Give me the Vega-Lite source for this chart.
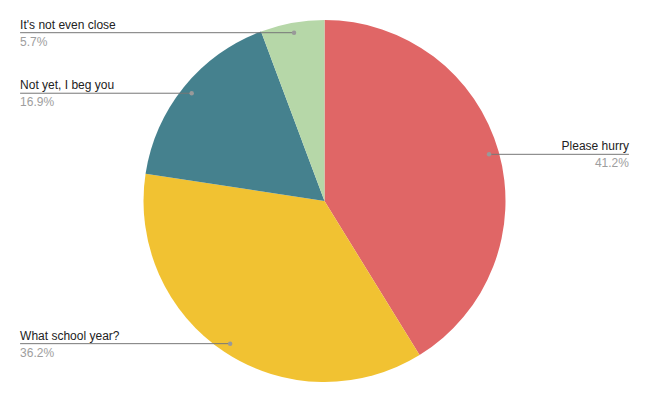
{
  "$schema": "https://vega.github.io/schema/vega-lite/v6.json",
  "width": 649,
  "height": 402,
  "padding": 0,
  "autosize": {"type": "fit", "contains": "padding"},
  "background": "white",
  "config": {"view": {"stroke": null}, "font": "Liberation Sans"},
  "data": {
    "values": [
      {"category": "Please hurry", "value": 41.2, "order": 1},
      {"category": "What school year?", "value": 36.2, "order": 2},
      {"category": "Not yet, I beg you", "value": 16.9, "order": 3},
      {"category": "It's not even close", "value": 5.7, "order": 4}
    ]
  },
  "transform": [
    {"window": [{"op": "sum", "field": "value", "as": "cum"}], "sort": [{"field": "order"}], "frame": [null, 0]},
    {"joinaggregate": [{"op": "sum", "field": "value", "as": "total"}]},
    {"calculate": "(datum.cum - datum.value / 2) / datum.total * 2 * PI", "as": "mid"},
    {"calculate": "0.945 * sin(datum.mid)", "as": "dotx"},
    {"calculate": "0.945 * cos(datum.mid)", "as": "doty"},
    {"calculate": "datum.mid > PI ? -1 : 1", "as": "side"},
    {"calculate": "datum.side * 1.682", "as": "labx"},
    {"calculate": "format(datum.value, '.1f') + '%'", "as": "pct"}
  ],
  "layer": [
    {
      "mark": {"type": "arc", "outerRadius": 181},
      "encoding": {
        "theta": {"field": "value", "type": "quantitative", "stack": true},
        "order": {"field": "order", "type": "quantitative"},
        "color": {
          "field": "category",
          "type": "nominal",
          "scale": {
            "domain": ["Please hurry", "What school year?", "Not yet, I beg you", "It's not even close"],
            "range": ["#E06666", "#F1C232", "#45818E", "#B6D7A8"]
          },
          "legend": null
        }
      }
    },
    {
      "mark": {"type": "rule", "color": "#777777", "strokeWidth": 1},
      "encoding": {
        "x": {"field": "dotx", "type": "quantitative", "scale": {"domain": [-1.793, 1.793], "nice": false, "zero": false}, "axis": null},
        "x2": {"field": "labx"},
        "y": {"field": "doty", "type": "quantitative", "scale": {"domain": [-1.1105, 1.1105], "nice": false, "zero": false}, "axis": null},
        "y2": {"field": "doty"}
      }
    },
    {
      "mark": {"type": "point", "filled": true, "color": "#999999", "size": 20, "opacity": 1},
      "encoding": {
        "x": {"field": "dotx", "type": "quantitative"},
        "y": {"field": "doty", "type": "quantitative"}
      }
    },
    {
      "transform": [{"filter": "datum.side < 0"}],
      "mark": {"type": "text", "align": "left", "baseline": "alphabetic", "dy": -4, "fontSize": 12, "color": "#222222"},
      "encoding": {
        "x": {"field": "labx", "type": "quantitative"},
        "y": {"field": "doty", "type": "quantitative"},
        "text": {"field": "category"}
      }
    },
    {
      "transform": [{"filter": "datum.side < 0"}],
      "mark": {"type": "text", "align": "left", "baseline": "alphabetic", "dy": 13, "fontSize": 12, "color": "#9E9E9E"},
      "encoding": {
        "x": {"field": "labx", "type": "quantitative"},
        "y": {"field": "doty", "type": "quantitative"},
        "text": {"field": "pct"}
      }
    },
    {
      "transform": [{"filter": "datum.side > 0"}],
      "mark": {"type": "text", "align": "right", "baseline": "alphabetic", "dy": -4, "fontSize": 12, "color": "#222222"},
      "encoding": {
        "x": {"field": "labx", "type": "quantitative"},
        "y": {"field": "doty", "type": "quantitative"},
        "text": {"field": "category"}
      }
    },
    {
      "transform": [{"filter": "datum.side > 0"}],
      "mark": {"type": "text", "align": "right", "baseline": "alphabetic", "dy": 13, "fontSize": 12, "color": "#9E9E9E"},
      "encoding": {
        "x": {"field": "labx", "type": "quantitative"},
        "y": {"field": "doty", "type": "quantitative"},
        "text": {"field": "pct"}
      }
    }
  ]
}
